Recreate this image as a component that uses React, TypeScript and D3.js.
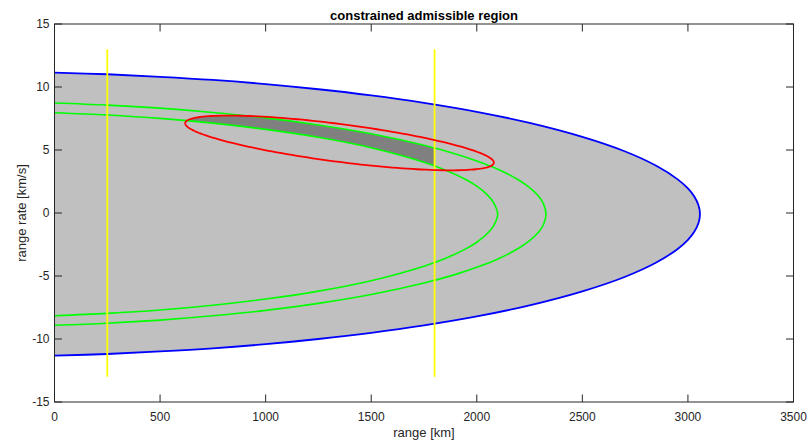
import React from 'react';
import * as d3 from 'd3';

const W = 807;
const H = 441;
const M = { left: 54.5, right: 13.5, top: 24, bottom: 39 };

const xDomain: [number, number] = [0, 3500];
const yDomain: [number, number] = [-15, 15];
const xTicks = [0, 500, 1000, 1500, 2000, 2500, 3000, 3500];
const yTicks = [-15, -10, -5, 0, 5, 10, 15];

const titleText = 'constrained admissible region';
const xLabel = 'range [km]';
const yLabel = 'range rate [km/s]';

// Boundary curves as [range km, range rate km/s], ordered from the top branch
// (range 0) round the apex to the bottom branch (range 0).
const blueBoundary: [number, number][] = [
  [0, 11.14], [250, 11.01], [500, 10.81], [750, 10.56], [1000, 10.23], [1250, 9.82],
  [1500, 9.33], [1750, 8.74], [2000, 8.03], [2250, 7.15], [2500, 6.04], [2700, 4.9],
  [2850, 3.75], [2950, 2.69], [3000, 1.95], [3030, 1.31], [3050, 0.62], [3057, -0.09],
  [3050, -0.8], [3030, -1.49], [3000, -2.13], [2950, -2.87], [2850, -3.93], [2700, -5.08],
  [2500, -6.22], [2250, -7.33], [2000, -8.21], [1750, -8.92], [1500, -9.51], [1250, -10.0],
  [1000, -10.41], [750, -10.74], [500, -10.99], [250, -11.19], [0, -11.32],
];

const greenOuter: [number, number][] = [
  [0, 8.73], [250, 8.565], [500, 8.32], [750, 7.98], [1000, 7.55], [1250, 6.99],
  [1500, 6.29], [1750, 5.38], [1900, 4.69], [2000, 4.13], [2100, 3.47], [2200, 2.6],
  [2250, 2.02], [2290, 1.39], [2315, 0.77], [2328, -0.09],
  [2315, -0.95], [2290, -1.57], [2250, -2.2], [2200, -2.78], [2100, -3.65], [2000, -4.31],
  [1900, -4.87], [1750, -5.56], [1500, -6.47], [1250, -7.17], [1000, -7.73], [750, -8.16],
  [500, -8.5], [250, -8.745], [0, -8.91],
];

const greenInner: [number, number][] = [
  [0, 7.96], [250, 7.78], [500, 7.51], [750, 7.13], [1000, 6.64], [1250, 6.01],
  [1500, 5.18], [1750, 4.03], [1850, 3.42], [1950, 2.64], [2000, 2.13], [2050, 1.44],
  [2080, 0.81], [2099, -0.095],
  [2080, -1.0], [2050, -1.63], [2000, -2.32], [1950, -2.83], [1850, -3.61], [1750, -4.22],
  [1500, -5.37], [1250, -6.2], [1000, -6.83], [750, -7.32], [500, -7.7], [250, -7.97], [0, -8.15],
];

// red ellipse: centre, half-diameter to the right-most point, and conjugate vertical half-chord
const redCenter: [number, number] = [1350, 5.56];
const redHalfMajor: [number, number] = [731, -1.56];
const redHalfChord: [number, number] = [0, 1.51];

const yellowRanges = [250, 1800];
const yellowRateLimits: [number, number] = [-13, 13];

const FONT = '"Liberation Sans", Arial, Helvetica, sans-serif';
const AXIS = '#262626';

export default function App() {
  const x = d3.scaleLinear().domain(xDomain).range([M.left, W - M.right]);
  const y = d3.scaleLinear().domain(yDomain).range([H - M.bottom, M.top]);

  const line = d3
    .line<[number, number]>()
    .x((d) => x(d[0]))
    .y((d) => y(d[1]))
    .curve(d3.curveCatmullRom.alpha(0.5));
  const straight = d3
    .line<[number, number]>()
    .x((d) => x(d[0]))
    .y((d) => y(d[1]));

  const ellPts: [number, number][] = d3.range(0, 361, 2).map((deg) => {
    const t = (deg * Math.PI) / 180;
    return [
      redCenter[0] + redHalfMajor[0] * Math.cos(t) + redHalfChord[0] * Math.sin(t),
      redCenter[1] + redHalfMajor[1] * Math.cos(t) + redHalfChord[1] * Math.sin(t),
    ];
  });
  const ellPath = (straight(ellPts) || '') + 'Z';

  const bluePath = line(blueBoundary) || '';
  const outerPath = line(greenOuter) || '';
  const innerPath = line(greenInner) || '';

  const x0 = x(xDomain[0]);
  const x1 = x(xDomain[1]);
  const y0 = y(yDomain[0]);
  const y1 = y(yDomain[1]);
  const tickLen = 7.5;

  return (
    <svg
      width={W}
      height={H}
      style={{ position: 'absolute', left: 0, top: 0, background: '#fff' }}
      fontFamily={FONT}
    >
      <defs>
        <clipPath id="ellClip">
          <path d={ellPath} />
        </clipPath>
        <clipPath id="yelClip">
          <rect x={x(yellowRanges[0])} y={y1} width={x(yellowRanges[1]) - x(yellowRanges[0])} height={y0 - y1} />
        </clipPath>
      </defs>
      <rect x={0} y={0} width={W} height={H} fill="#fff" />

      <path d={bluePath + 'Z'} fill="#c0c0c0" stroke="none" />

      <g clipPath="url(#yelClip)">
        <path
          d={outerPath + 'Z' + innerPath + 'Z'}
          fill="#808080"
          fillRule="evenodd"
          clipPath="url(#ellClip)"
        />
      </g>

      <path d={outerPath} fill="none" stroke="#00ff00" strokeWidth={1.6} />
      <path d={innerPath} fill="none" stroke="#00ff00" strokeWidth={1.6} />
      <path d={bluePath} fill="none" stroke="#0000ff" strokeWidth={1.8} />
      {yellowRanges.map((r) => (
        <line
          key={r}
          x1={x(r)}
          x2={x(r)}
          y1={y(yellowRateLimits[0])}
          y2={y(yellowRateLimits[1])}
          stroke="#ffff00"
          strokeWidth={1.8}
        />
      ))}
      <path d={ellPath} fill="none" stroke="#ff0000" strokeWidth={1.8} />

      <rect x={x0} y={y1} width={x1 - x0} height={y0 - y1} fill="none" stroke={AXIS} strokeWidth={1} />
      {xTicks.map((t) => (
        <g key={'x' + t}>
          <line x1={x(t)} x2={x(t)} y1={y0} y2={y0 - tickLen} stroke={AXIS} strokeWidth={1} />
          <line x1={x(t)} x2={x(t)} y1={y1} y2={y1 + tickLen} stroke={AXIS} strokeWidth={1} />
          <text x={x(t)} y={y0 + 19} textAnchor="middle" fontSize={12} fill={AXIS}>
            {t}
          </text>
        </g>
      ))}
      {yTicks.map((t) => (
        <g key={'y' + t}>
          <line x1={x0} x2={x0 + tickLen} y1={y(t)} y2={y(t)} stroke={AXIS} strokeWidth={1} />
          <line x1={x1} x2={x1 - tickLen} y1={y(t)} y2={y(t)} stroke={AXIS} strokeWidth={1} />
          <text x={x0 - 5} y={y(t)} dy="0.35em" textAnchor="end" fontSize={12} fill={AXIS}>
            {t}
          </text>
        </g>
      ))}

      <text x={(x0 + x1) / 2} y={437} textAnchor="middle" fontSize={13} fill={AXIS}>
        {xLabel}
      </text>
      <text
        transform={`translate(26, ${(y0 + y1) / 2}) rotate(-90)`}
        textAnchor="middle"
        fontSize={13}
        fill={AXIS}
      >
        {yLabel}
      </text>
      <text x={(x0 + x1) / 2} y={19.5} textAnchor="middle" fontSize={13} fontWeight="bold" fill="#000">
        {titleText}
      </text>
    </svg>
  );
}
